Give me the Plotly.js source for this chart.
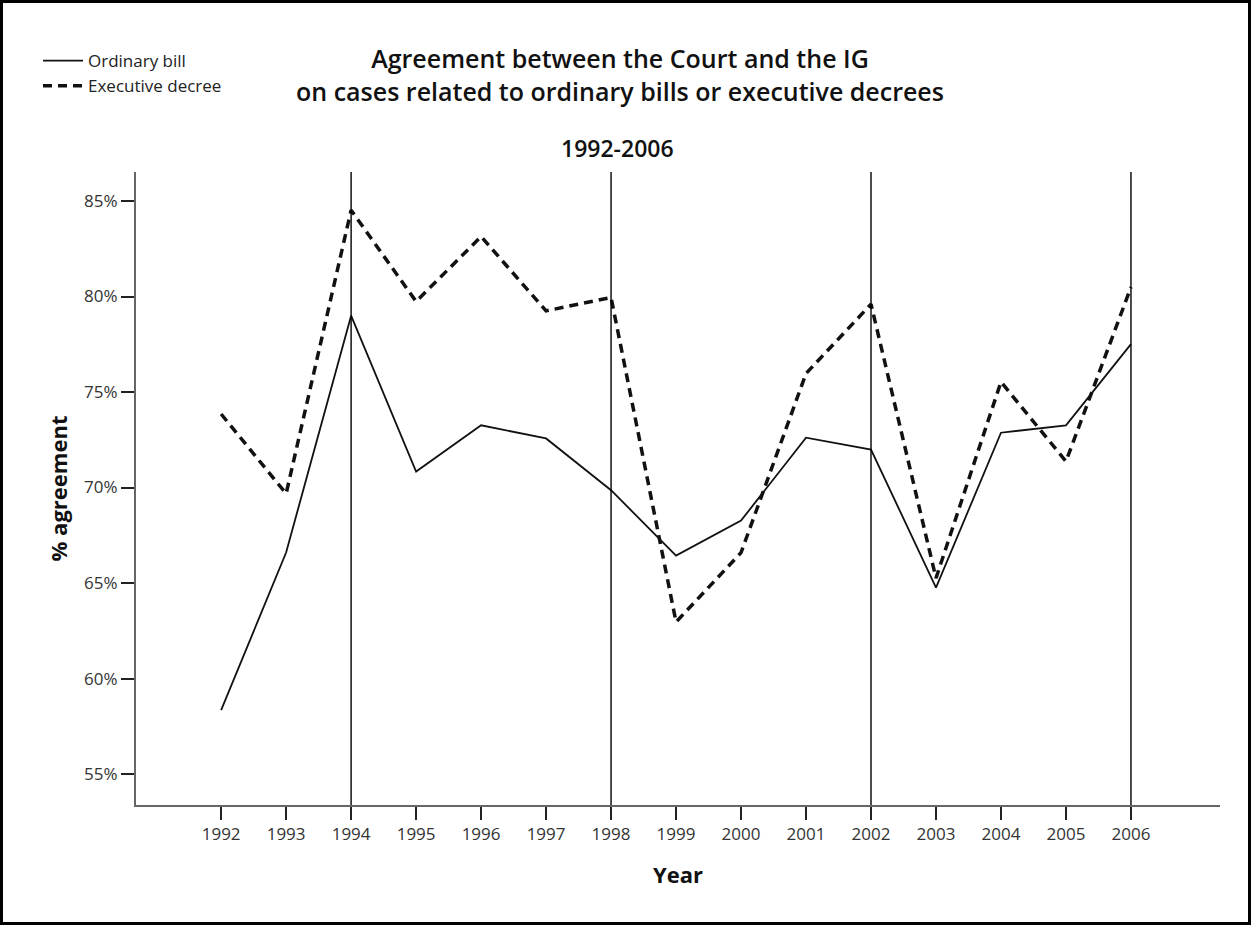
<!DOCTYPE html>
<html>
<head>
<meta charset="utf-8">
<script src="https://cdn.plot.ly/plotly-3.0.1.min.js"></script>
<style>
  html, body { margin: 0; padding: 0; background: #fff; }
  #chart { width: 1251px; height: 925px; }
</style>
</head>
<body>
<div id="chart"></div>
<script>
// ---- data ----
const years = [1992, 1993, 1994, 1995, 1996, 1997, 1998, 1999, 2000, 2001, 2002, 2003, 2004, 2005, 2006];
const ordinaryBill    = [58.35, 66.6, 79.0, 70.84, 73.26, 72.57, 69.86, 66.44, 68.27, 72.61, 71.99, 64.76, 72.87, 73.26, 77.51];
const executiveDecree = [73.85, 69.68, 84.52, 79.74, 83.14, 79.25, 79.95, 62.96, 66.59, 75.97, 79.6, 65.26, 75.53, 71.37, 80.49];
const seriesNames = ["Ordinary bill", "Executive decree"];
const referenceYears = [1994, 1998, 2002, 2006];
const yTickValues = [55, 60, 65, 70, 75, 80, 85];
const yTickLabels = ["55%", "60%", "65%", "70%", "75%", "80%", "85%"];
const xTickValues = years;
const titleText = "Agreement between the Court and the IG<br>on cases related to ordinary bills or executive decrees";
const subtitleText = "1992-2006";
const xTitle = "Year";
const yTitle = "% agreement";

// ---- layout geometry ----
const W = 1251, H = 925;
const M = { l: 136, r: 31, t: 172, b: 120 };
const plotW = W - M.l - M.r, plotH = H - M.t - M.b;
const FONT = "Open Sans, Lato, sans-serif";
const INK = "#111";
const px2x = p => (p - M.l) / plotW;
const px2y = p => (H - M.b - p) / plotH;

const traces = [
  {
    x: years, y: ordinaryBill, name: seriesNames[0], type: "scatter", mode: "lines",
    line: { color: INK, width: 1.8 }
  },
  {
    x: years, y: executiveDecree, name: seriesNames[1], type: "scatter", mode: "lines",
    line: { color: INK, width: 3.5, dash: "9px,6px" }
  }
];

const shapes = referenceYears.map(yr => ({
  type: "line", xref: "x", yref: "paper", x0: yr, x1: yr, y0: 0, y1: 1,
  line: { color: "#000", width: 1.4 }
}));
// outer frame of the figure
shapes.push({
  type: "rect", xref: "paper", yref: "paper",
  x0: px2x(1.5), x1: px2x(W - 1.5), y0: px2y(H - 1.5), y1: px2y(1.5),
  line: { color: "#000", width: 3 }, fillcolor: "rgba(0,0,0,0)", layer: "above"
});

const layout = {
  width: W, height: H,
  margin: M,
  paper_bgcolor: "#fff", plot_bgcolor: "#fff",
  font: { family: FONT, color: INK, size: 17 },
  showlegend: true,
  title: {
    text: titleText,
    font: { family: FONT, size: 25, weight: 600, color: INK },
    xref: "container", yref: "container",
    x: 620 / W, xanchor: "center",
    y: 1 - 68 / H, yanchor: "top"
  },
  legend: {
    xref: "paper", yref: "paper",
    x: px2x(38), xanchor: "left",
    y: px2y(43), yanchor: "top",
    bgcolor: "rgba(0,0,0,0)",
    borderwidth: 0,
    font: { family: FONT, size: 17, color: "#222" },
    traceorder: "normal",
    itemwidth: 40
  },
  xaxis: {
    range: [1990.69, 2007.37],
    tickvals: xTickValues,
    ticktext: xTickValues.map(String),
    ticks: "outside", ticklen: 13, tickwidth: 2, tickcolor: "#222",
    showline: true, linecolor: "#666", linewidth: 2,
    showgrid: false, zeroline: false,
    tickfont: { family: FONT, size: 17, color: "#333" },
    title: { text: xTitle, font: { family: FONT, size: 22, weight: 700, color: INK }, standoff: 23 },
    automargin: false, fixedrange: true
  },
  yaxis: {
    range: [53.38, 86.52],
    tickmode: "array",
    tickvals: yTickValues,
    ticktext: yTickLabels,
    ticks: "outside", ticklen: 13, tickwidth: 2, tickcolor: "#222",
    showline: true, linecolor: "#666", linewidth: 2,
    showgrid: false, zeroline: false,
    tickfont: { family: FONT, size: 17, color: "#333" },
    title: { text: yTitle, font: { family: FONT, size: 22, weight: 700, color: INK }, standoff: 10 },
    automargin: false, fixedrange: true
  },
  shapes: shapes,
  annotations: [
    {
      text: subtitleText, showarrow: false,
      xref: "paper", yref: "paper",
      x: px2x(617), y: px2y(148), xanchor: "center", yanchor: "middle",
      font: { family: FONT, size: 23, weight: 600, color: INK }
    }
  ]
};

Plotly.newPlot("chart", traces, layout, { displayModeBar: false, staticPlot: true });
</script>
</body>
</html>
